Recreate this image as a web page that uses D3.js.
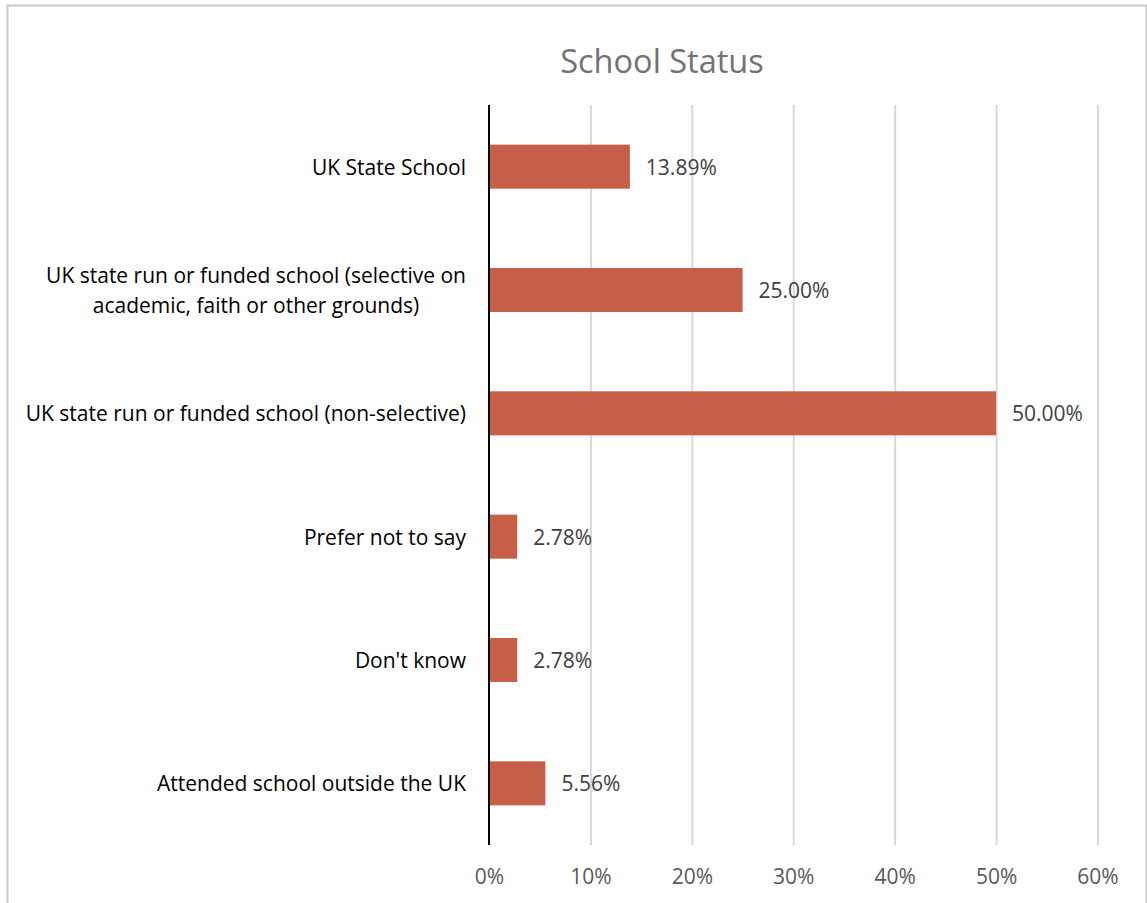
<!DOCTYPE html>
<html>
<head>
<meta charset="utf-8">
<script src="https://cdn.jsdelivr.net/npm/d3@7"></script>
<style>
  html, body { margin: 0; padding: 0; background: #fff; }
  svg { display: block; }
  text { font-family: "Open Sans", "Noto Sans", sans-serif; }
</style>
</head>
<body>
<script>
const title = "School Status";
const categories = [
  ["UK State School"],
  ["UK state run or funded school (selective on", "academic, faith or other grounds)"],
  ["UK state run or funded school (non-selective)"],
  ["Prefer not to say"],
  ["Don't know"],
  ["Attended school outside the UK"]
];
const values = [13.89, 25.00, 50.00, 2.78, 2.78, 5.56];
const tickValues = [0, 10, 20, 30, 40, 50, 60];

const W = 1147, H = 903;
const svg = d3.select("body").append("svg").attr("width", W).attr("height", H);

// chart border
svg.append("rect")
  .attr("x", 7.5).attr("y", 5.5)
  .attr("width", 1139).attr("height", 910)
  .attr("fill", "#fff").attr("stroke", "#c9c9c9").attr("stroke-width", 2);

const plot = { left: 489, right: 1097.5, top: 105, bottom: 845 };
const fs = 21;

const x = d3.scaleLinear().domain([0, 60]).range([plot.left, plot.right]);
const y = d3.scaleBand()
  .domain(d3.range(categories.length))
  .range([plot.top, plot.bottom])
  .paddingInner(0.643)
  .paddingOuter(0.3215);

// title
svg.append("text")
  .attr("x", 662).attr("y", 73)
  .attr("text-anchor", "middle")
  .attr("font-size", 32.5)
  .attr("fill", "#767171")
  .text(title);

// gridlines
const xAxisGrid = d3.axisBottom(x).tickValues(tickValues.filter(d => d > 0))
  .tickSize(-(plot.bottom - plot.top)).tickFormat("");
svg.append("g")
  .attr("transform", `translate(0,${plot.bottom})`)
  .call(xAxisGrid)
  .call(g => g.select(".domain").remove())
  .call(g => g.selectAll("line").attr("stroke", "#d9d9d9").attr("stroke-width", 2));

// tick labels
const xAxis = d3.axisBottom(x).tickValues(tickValues).tickSize(0).tickFormat(d => d + "%");
svg.append("g")
  .attr("transform", `translate(0,${plot.bottom})`)
  .call(xAxis)
  .call(g => g.select(".domain").remove())
  .call(g => g.selectAll("text")
    .attr("y", 0).attr("dy", 39)
    .attr("font-size", fs)
    .attr("font-family", "'Open Sans', sans-serif")
    .attr("fill", "#595959"));

// bars
svg.append("g").selectAll("rect")
  .data(values)
  .join("rect")
  .attr("x", x(0))
  .attr("y", (d, i) => y(i))
  .attr("width", d => x(d) - x(0))
  .attr("height", y.bandwidth())
  .attr("fill", "#c55f47");

// value labels
svg.append("g").selectAll("text")
  .data(values)
  .join("text")
  .attr("x", d => x(d) + 16)
  .attr("y", (d, i) => y(i) + y.bandwidth() / 2 + 8)
  .attr("font-size", fs)
  .attr("fill", "#404040")
  .text(d => d.toFixed(2) + "%");

// category labels
const catG = svg.append("g");
categories.forEach((lines, i) => {
  const cy = y(i) + y.bandwidth() / 2;
  const lh = 30;
  const baseY = cy + 8 - (lines.length - 1) * lh / 2;
  if (lines.length === 1) {
    catG.append("text")
      .attr("x", 466).attr("y", baseY)
      .attr("text-anchor", "end")
      .attr("font-size", fs)
      .attr("fill", "#000")
      .text(lines[0]);
  } else {
    const t0 = catG.append("text")
      .attr("x", 466).attr("y", baseY)
      .attr("text-anchor", "end")
      .attr("font-size", fs)
      .attr("fill", "#000")
      .text(lines[0]);
    const w0 = t0.node().getComputedTextLength();
    const mid = 466 - w0 / 2;
    lines.slice(1).forEach((ln, k) => {
      catG.append("text")
        .attr("x", mid).attr("y", baseY + lh * (k + 1))
        .attr("text-anchor", "middle")
        .attr("font-size", fs)
        .attr("fill", "#000")
        .text(ln);
    });
  }
});

// vertical axis line
svg.append("line")
  .attr("x1", x(0)).attr("x2", x(0))
  .attr("y1", plot.top).attr("y2", plot.bottom)
  .attr("stroke", "#000").attr("stroke-width", 2);
</script>
</body>
</html>
